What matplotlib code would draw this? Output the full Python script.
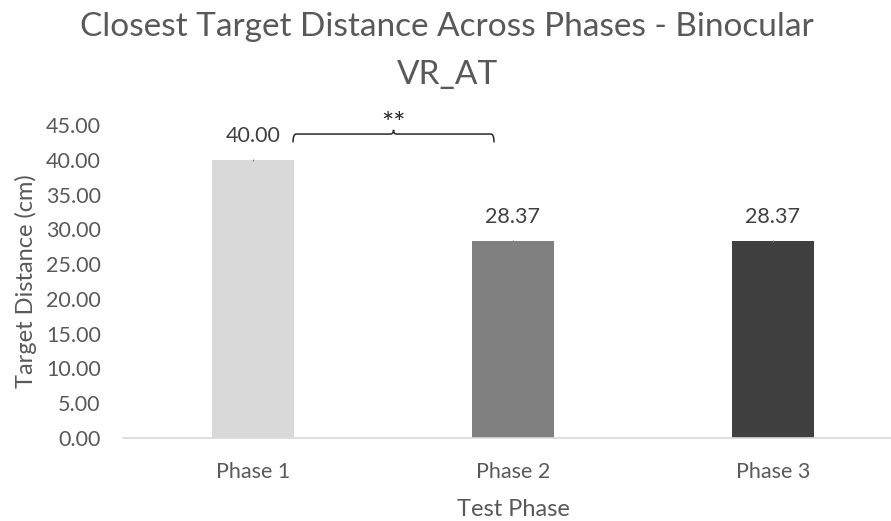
import matplotlib
matplotlib.use("Agg")
import matplotlib.pyplot as plt
from matplotlib.ticker import FormatStrFormatter
from matplotlib.path import Path
from matplotlib.patches import PathPatch

# Data
phases = ["Phase 1", "Phase 2", "Phase 3"]
distances = [40.00, 28.37, 28.37]
errors = [0.15, 0.15, 0.15]
bar_colors = ["#D9D9D9", "#808080", "#404040"]
yticks = [0, 5, 10, 15, 20, 25, 30, 35, 40, 45]
title_lines = ["Closest Target Distance Across Phases - Binocular", "VR_AT"]

plt.rcParams["font.family"] = ["Lato", "DejaVu Sans"]
text_col = "#595959"

W, H = 891, 521
fig = plt.figure(figsize=(W / 100, H / 100), dpi=100)
left_px, right_px, bottom_px, top_px = 123, 891, 438, 125
ax = fig.add_axes([left_px / W, 1 - bottom_px / H,
                   (right_px - left_px) / W, (bottom_px - top_px) / H])

x = list(range(len(phases)))
ax.bar(x, distances, width=0.315, color=bar_colors, zorder=2)
ax.errorbar(x, distances, yerr=errors, fmt="none", ecolor="#7f7f7f",
            elinewidth=0.8, capsize=0, zorder=3)

cat_px = 260
ax.set_xlim(-0.5, -0.5 + (right_px - left_px) / cat_px)
ax.set_ylim(0, 45)
ax.set_yticks(yticks)
ax.yaxis.set_major_formatter(FormatStrFormatter("%.2f"))
ax.set_xticks(x)
ax.set_xticklabels(phases)

for s in ["top", "right", "left"]:
    ax.spines[s].set_visible(False)
ax.spines["bottom"].set_color("#D9D9D9")
ax.spines["bottom"].set_linewidth(1.2)
ax.tick_params(axis="both", length=0, labelsize=15.5, colors=text_col)
ax.tick_params(axis="x", pad=17)
ax.tick_params(axis="y", pad=16)

# Value labels
for xi, v in zip(x, distances):
    ax.annotate(f"{v:.2f}", (xi, v), xytext=(0, 17), textcoords="offset points",
                ha="center", va="center", fontsize=15.5, color="#404040")

# Significance brace between Phase 1 and Phase 2
x0, x1 = 0.154, 0.927
xm = (x0 + x1) / 2
yb, yt, yp = 43.7, 42.5, 44.3
d = 0.012
verts = [(x0, yt), (x0, yb), (x0 + d, yb),
         (xm - d, yb), (xm, yb), (xm, yp),
         (xm, yb), (xm + d, yb),
         (x1 - d, yb), (x1, yb), (x1, yt)]
codes = [Path.MOVETO, Path.CURVE3, Path.CURVE3,
         Path.LINETO, Path.CURVE3, Path.CURVE3,
         Path.CURVE3, Path.CURVE3,
         Path.LINETO, Path.CURVE3, Path.CURVE3]
ax.add_patch(PathPatch(Path(verts, codes), fill=False, edgecolor="#262626",
                       lw=1.1, clip_on=False, zorder=4))
ax.text(xm, 45.0, "**", ha="center", va="center", fontsize=21, color="#262626")

ax.set_ylabel("Target Distance (cm)", fontsize=17, color=text_col)
ax.yaxis.set_label_coords(-(left_px - 26) / (right_px - left_px), 0.5)
ax.set_xlabel("Test Phase", fontsize=17, color=text_col)
ax.xaxis.set_label_coords(0.5 * 780 / (right_px - left_px), -(509 - bottom_px) / (bottom_px - top_px))
ax.xaxis.label.set_verticalalignment("center")
ax.yaxis.label.set_verticalalignment("center")

# Two-line chart title
fig.text(447 / W, 1 - 36 / H, title_lines[0], ha="center", va="baseline",
         fontsize=24, color=text_col)
fig.text(448 / W, 1 - 84 / H, title_lines[1], ha="center", va="baseline",
         fontsize=24, color=text_col)

fig.savefig("out.png", dpi=100)
